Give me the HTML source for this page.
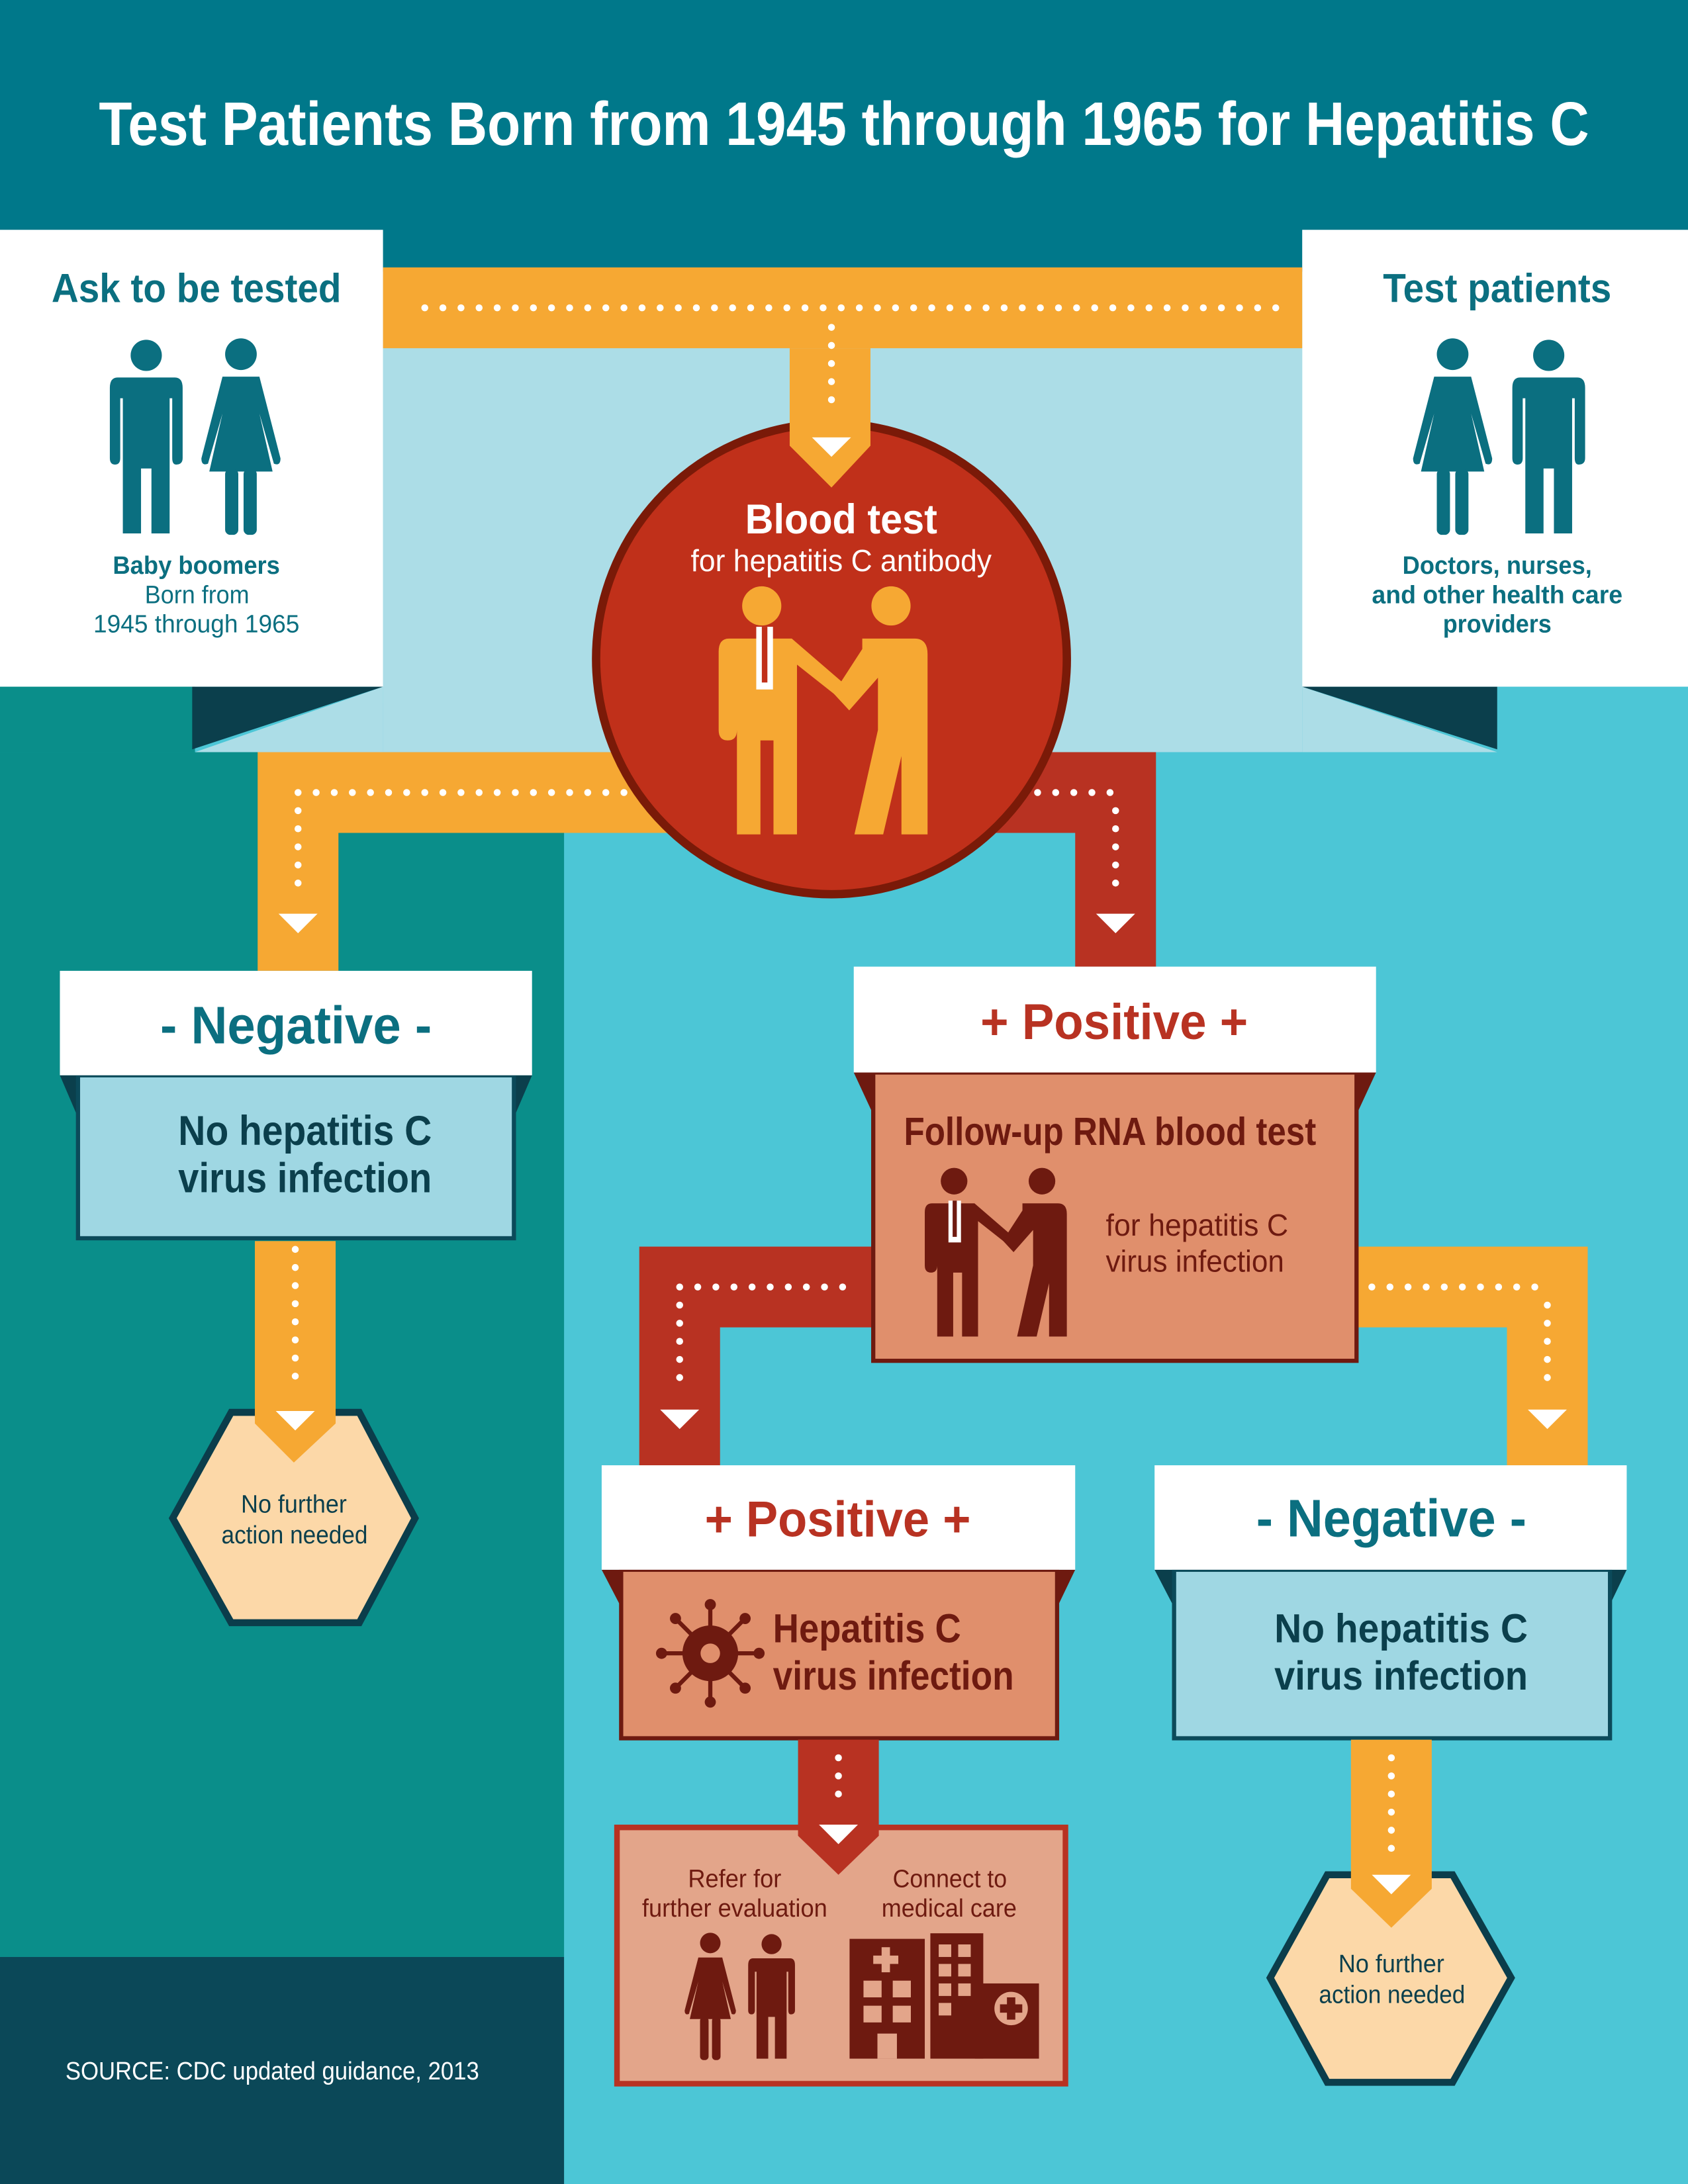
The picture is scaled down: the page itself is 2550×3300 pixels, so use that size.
<!DOCTYPE html>
<html><head><meta charset="utf-8"><style>
html,body{margin:0;padding:0;background:#fff}
svg{display:block}
text{font-family:"Liberation Sans Narrow","Liberation Sans",sans-serif}
</style></head><body>
<svg width="2550" height="3300" viewBox="0 0 1212 1568" preserveAspectRatio="none" xmlns="http://www.w3.org/2000/svg">
<defs>
<symbol id="man" viewBox="0 0 60 150" overflow="visible">
 <circle cx="30" cy="13" r="12"/>
 <path d="M8 30 H52 Q58 30 58 38 V92 Q58 97 53 97 Q50 97 50 92 V46 H48 V150 H34 V100 H26 V150 H12 V46 H10 V92 Q10 97 6 97 Q2 97 2 92 V38 Q2 30 8 30Z"/>
</symbol>
<symbol id="woman" viewBox="0 0 60 150" overflow="visible">
 <circle cx="30" cy="13" r="12"/>
 <path d="M16 30 H44 L60 92 Q60 98 55 96 L44 58 L54 102 H6 L16 58 L5 96 Q0 98 0 92Z"/>
 <rect x="18" y="100" width="10" height="50" rx="4"/>
 <rect x="32" y="100" width="10" height="50" rx="4"/>
</symbol>
<symbol id="shake" viewBox="0 0 160 190" overflow="visible">
 <circle cx="33" cy="15" r="15"/>
 <path d="M8 40 H56 L100 78 Q106 86 98 90 L60 60 V190 H42 V118 H32 V190 H14 V60 V110 Q14 118 7 118 Q0 118 0 110 V50 Q0 40 8 40Z"/>
 <circle cx="132" cy="15" r="15"/>
 <path d="M110 40 H150 Q160 40 160 52 V190 H140 V130 L126 190 H104 L122 110 V70 L100 95 L88 82 L110 48Z"/>
</symbol>
</defs>

<rect x="0" y="0" width="1212" height="1568" fill="#4cc6d6"/>
<rect x="0" y="0" width="1212" height="195" fill="#00788a"/>
<rect x="0" y="540" width="405" height="865" fill="#0a8e8a"/>
<rect x="0" y="1405" width="405" height="163" fill="#0b4858"/>
<rect x="0" y="493" width="140" height="47" fill="#0a8e8a"/>
<rect x="275" y="195" width="660" height="345" fill="#acdde7"/>
<polygon points="140,540 275,493 275,540" fill="#acdde7"/>
<polygon points="935,493 1075,540 935,540" fill="#acdde7"/>
<polygon points="138,493 275,493 138,538" fill="#0b3f4c"/>
<polygon points="935,493 1075,493 1075,538" fill="#0b3f4c"/>

<text x="606" y="104" text-anchor="middle" font-size="44" font-weight="bold" fill="#fff" textLength="1070" lengthAdjust="spacingAndGlyphs">Test Patients Born from 1945 through 1965 for Hepatitis C</text>

<rect x="0" y="165" width="275" height="328" fill="#fff"/>
<rect x="935" y="165" width="277" height="328" fill="#fff"/>
<text x="37" y="217" font-size="29" font-weight="bold" fill="#0b6f80" textLength="208" lengthAdjust="spacingAndGlyphs">Ask to be tested</text>
<use href="#man" x="77" y="242" width="56" height="142" fill="#0b6f80"/>
<use href="#woman" x="142" y="242" width="62" height="142" fill="#0b6f80"/>
<text x="81" y="412" font-size="18" font-weight="bold" fill="#0b6f80" textLength="120" lengthAdjust="spacingAndGlyphs">Baby boomers</text>
<text x="104" y="433" font-size="18" fill="#0b6f80" textLength="75" lengthAdjust="spacingAndGlyphs">Born from</text>
<text x="67" y="454" font-size="18" fill="#0b6f80" textLength="148" lengthAdjust="spacingAndGlyphs">1945 through 1965</text>
<text x="993" y="217" font-size="29" font-weight="bold" fill="#0b6f80" textLength="164" lengthAdjust="spacingAndGlyphs">Test patients</text>
<use href="#woman" x="1012" y="242" width="62" height="142" fill="#0b6f80"/>
<use href="#man" x="1084" y="242" width="56" height="142" fill="#0b6f80"/>
<text x="1007" y="412" font-size="18" font-weight="bold" fill="#0b6f80" textLength="136" lengthAdjust="spacingAndGlyphs">Doctors, nurses,</text>
<text x="985" y="433" font-size="18" font-weight="bold" fill="#0b6f80" textLength="180" lengthAdjust="spacingAndGlyphs">and other health care</text>
<text x="1036" y="454" font-size="18" font-weight="bold" fill="#0b6f80" textLength="78" lengthAdjust="spacingAndGlyphs">providers</text>

<rect x="275" y="192" width="660" height="58" fill="#f6a833"/>
<line x1="305" y1="221" x2="925" y2="221" stroke="#fff" stroke-width="5" stroke-linecap="round" stroke-dasharray="0 13"/>

<path d="M185 540 H480 V598 H243 V697 H185Z" fill="#f6a833"/>
<line x1="214" y1="569" x2="460" y2="569" stroke="#fff" stroke-width="5" stroke-linecap="round" stroke-dasharray="0 13"/>
<line x1="214" y1="582" x2="214" y2="645" stroke="#fff" stroke-width="5" stroke-linecap="round" stroke-dasharray="0 13"/>
<polygon points="200,656 228,656 214,670" fill="#fff"/>
<path d="M700 540 H830 V694 H772 V598 H700Z" fill="#b83222"/>
<line x1="745" y1="569" x2="801" y2="569" stroke="#fff" stroke-width="5" stroke-linecap="round" stroke-dasharray="0 13"/>
<line x1="801" y1="582" x2="801" y2="645" stroke="#fff" stroke-width="5" stroke-linecap="round" stroke-dasharray="0 13"/>
<polygon points="787,656 815,656 801,670" fill="#fff"/>

<circle cx="597" cy="473" r="169" fill="#c0301a" stroke="#7a1a08" stroke-width="6"/>
<polygon points="567,250 625,250 625,320 597,350 567,320" fill="#f6a833"/>
<line x1="597" y1="235" x2="597" y2="300" stroke="#fff" stroke-width="5" stroke-linecap="round" stroke-dasharray="0 13"/>
<polygon points="583,314 611,314 597,328" fill="#fff"/>
<text x="535" y="383" font-size="30" font-weight="bold" fill="#fff" textLength="138" lengthAdjust="spacingAndGlyphs">Blood test</text>
<text x="496" y="410" font-size="22" fill="#fff" textLength="216" lengthAdjust="spacingAndGlyphs">for hepatitis C antibody</text>
<use href="#shake" x="516" y="418" width="150" height="184" fill="#f6a833"/>
<rect x="543" y="450" width="12" height="45" fill="#fff"/>
<rect x="547" y="450" width="4" height="40" fill="#c0301a"/>

<polygon points="43,772 55,772 55,800" fill="#0b3f4c"/>
<polygon points="370,772 382,772 370,800" fill="#0b3f4c"/>
<rect x="56" y="772" width="313" height="117" fill="#9fd7e3" stroke="#0b4a5a" stroke-width="3"/>
<rect x="43" y="697" width="339" height="75" fill="#fff"/>
<text x="115" y="749" font-size="38" font-weight="bold" fill="#0b6f80" textLength="195" lengthAdjust="spacingAndGlyphs">- Negative -</text>
<text x="128" y="822" font-size="30" font-weight="bold" fill="#0b3f4c" textLength="182" lengthAdjust="spacingAndGlyphs">No hepatitis C</text>
<text x="128" y="856" font-size="30" font-weight="bold" fill="#0b3f4c" textLength="182" lengthAdjust="spacingAndGlyphs">virus infection</text>
<polygon points="166,1014 258,1014 298,1090 258,1165 166,1165 124,1090" fill="#fcd8a8" stroke="#0b3d4b" stroke-width="5"/>
<polygon points="183,891 241,891 241,1022 211,1050 183,1022" fill="#f6a833"/>
<line x1="212" y1="897" x2="212" y2="1000" stroke="#fff" stroke-width="5" stroke-linecap="round" stroke-dasharray="0 13"/>
<polygon points="198,1013 226,1013 212,1027" fill="#fff"/>
<text x="173" y="1086" font-size="18" fill="#0b3f4c" textLength="76" lengthAdjust="spacingAndGlyphs">No further</text>
<text x="159" y="1108" font-size="18" fill="#0b3f4c" textLength="105" lengthAdjust="spacingAndGlyphs">action needed</text>

<path d="M630 895 H459 V1052 H517 V953 H630Z" fill="#b83222"/>
<line x1="488" y1="924" x2="615" y2="924" stroke="#fff" stroke-width="5" stroke-linecap="round" stroke-dasharray="0 13"/>
<line x1="488" y1="937" x2="488" y2="1000" stroke="#fff" stroke-width="5" stroke-linecap="round" stroke-dasharray="0 13"/>
<polygon points="474,1012 502,1012 488,1026" fill="#fff"/>
<path d="M970 895 H1140 V1052 H1082 V953 H970Z" fill="#f6a833"/>
<line x1="985" y1="924" x2="1111" y2="924" stroke="#fff" stroke-width="5" stroke-linecap="round" stroke-dasharray="0 13"/>
<line x1="1111" y1="937" x2="1111" y2="1000" stroke="#fff" stroke-width="5" stroke-linecap="round" stroke-dasharray="0 13"/>
<polygon points="1097,1012 1125,1012 1111,1026" fill="#fff"/>

<polygon points="613,770 626,770 626,798" fill="#6e1a10"/>
<polygon points="975,770 988,770 975,798" fill="#6e1a10"/>
<rect x="627" y="770" width="347" height="207" fill="#e08f6c" stroke="#6e1a10" stroke-width="3"/>
<rect x="613" y="694" width="375" height="76" fill="#fff"/>
<text x="704" y="746" font-size="36" font-weight="bold" fill="#b83222" textLength="192" lengthAdjust="spacingAndGlyphs">+ Positive +</text>
<text x="649" y="822" font-size="28" font-weight="bold" fill="#6e1a10" textLength="296" lengthAdjust="spacingAndGlyphs">Follow-up RNA blood test</text>
<use href="#shake" x="664" y="836" width="102" height="126" fill="#6e1a10"/>
<rect x="681" y="862" width="9" height="30" fill="#fff"/>
<rect x="684" y="862" width="3" height="26" fill="#6e1a10"/>
<text x="794" y="887" font-size="22" fill="#6e1a10" textLength="131" lengthAdjust="spacingAndGlyphs">for hepatitis C</text>
<text x="794" y="913" font-size="22" fill="#6e1a10" textLength="128" lengthAdjust="spacingAndGlyphs">virus infection</text>

<polygon points="432,1127 445,1127 445,1152" fill="#6e1a10"/>
<polygon points="760,1127 772,1127 760,1152" fill="#6e1a10"/>
<rect x="446" y="1127" width="313" height="121" fill="#e08f6c" stroke="#6e1a10" stroke-width="3"/>
<rect x="432" y="1052" width="340" height="75" fill="#fff"/>
<text x="506" y="1103" font-size="36" font-weight="bold" fill="#b83222" textLength="191" lengthAdjust="spacingAndGlyphs">+ Positive +</text>
<g fill="#6e1a10" stroke="#6e1a10">
 <circle cx="510" cy="1187" r="20" stroke="none"/>
 <g stroke-width="3">
  <line x1="510" y1="1187" x2="510" y2="1152"/><line x1="510" y1="1187" x2="510" y2="1222"/>
  <line x1="510" y1="1187" x2="475" y2="1187"/><line x1="510" y1="1187" x2="545" y2="1187"/>
  <line x1="510" y1="1187" x2="485" y2="1162"/><line x1="510" y1="1187" x2="535" y2="1212"/>
  <line x1="510" y1="1187" x2="535" y2="1162"/><line x1="510" y1="1187" x2="485" y2="1212"/>
 </g>
 <g stroke="none">
  <circle cx="510" cy="1152" r="4"/><circle cx="510" cy="1222" r="4"/><circle cx="475" cy="1187" r="4"/><circle cx="545" cy="1187" r="4"/>
  <circle cx="485" cy="1162" r="4"/><circle cx="535" cy="1212" r="4"/><circle cx="535" cy="1162" r="4"/><circle cx="485" cy="1212" r="4"/>
 </g>
 <circle cx="510" cy="1187" r="7" fill="#e08f6c" stroke="none"/>
</g>
<text x="555" y="1179" font-size="29" font-weight="bold" fill="#6e1a10" textLength="135" lengthAdjust="spacingAndGlyphs">Hepatitis C</text>
<text x="555" y="1213" font-size="29" font-weight="bold" fill="#6e1a10" textLength="173" lengthAdjust="spacingAndGlyphs">virus infection</text>

<polygon points="829,1127 842,1127 842,1152" fill="#0b3f4c"/>
<polygon points="1156,1127 1168,1127 1156,1152" fill="#0b3f4c"/>
<rect x="843" y="1127" width="313" height="121" fill="#9fd7e3" stroke="#0b4a5a" stroke-width="3"/>
<rect x="829" y="1052" width="339" height="75" fill="#fff"/>
<text x="902" y="1103" font-size="38" font-weight="bold" fill="#0b6f80" textLength="194" lengthAdjust="spacingAndGlyphs">- Negative -</text>
<text x="915" y="1179" font-size="29" font-weight="bold" fill="#0b3f4c" textLength="182" lengthAdjust="spacingAndGlyphs">No hepatitis C</text>
<text x="915" y="1213" font-size="29" font-weight="bold" fill="#0b3f4c" textLength="182" lengthAdjust="spacingAndGlyphs">virus infection</text>

<rect x="443" y="1312" width="322" height="184" fill="#e3a58a" stroke="#b83222" stroke-width="4"/>
<polygon points="573,1249 631,1249 631,1318 602,1346 573,1318" fill="#b83222"/>
<line x1="602" y1="1262" x2="602" y2="1300" stroke="#fff" stroke-width="5" stroke-linecap="round" stroke-dasharray="0 13"/>
<polygon points="588,1310 616,1310 602,1324" fill="#fff"/>
<text x="494" y="1355" font-size="18" fill="#6e1a10" textLength="67" lengthAdjust="spacingAndGlyphs">Refer for</text>
<text x="461" y="1376" font-size="18" fill="#6e1a10" textLength="133" lengthAdjust="spacingAndGlyphs">further evaluation</text>
<text x="641" y="1355" font-size="18" fill="#6e1a10" textLength="82" lengthAdjust="spacingAndGlyphs">Connect to</text>
<text x="633" y="1376" font-size="18" fill="#6e1a10" textLength="97" lengthAdjust="spacingAndGlyphs">medical care</text>
<use href="#woman" x="490" y="1387" width="40" height="92" fill="#6e1a10"/>
<use href="#man" x="536" y="1387" width="36" height="92" fill="#6e1a10"/>
<g fill="#6e1a10">
 <rect x="610" y="1392" width="54" height="86"/>
 <rect x="668" y="1388" width="38" height="90"/>
 <rect x="700" y="1424" width="46" height="54"/>
</g>
<g fill="#e3a58a">
 <rect x="633" y="1398" width="6" height="18"/><rect x="627" y="1404" width="18" height="6"/>
 <rect x="620" y="1422" width="13" height="12"/><rect x="641" y="1422" width="13" height="12"/>
 <rect x="620" y="1440" width="13" height="12"/><rect x="641" y="1440" width="13" height="12"/>
 <rect x="630" y="1460" width="14" height="18"/>
 <rect x="674" y="1396" width="9" height="9"/><rect x="688" y="1396" width="9" height="9"/>
 <rect x="674" y="1410" width="9" height="9"/><rect x="688" y="1410" width="9" height="9"/>
 <rect x="674" y="1424" width="9" height="9"/><rect x="688" y="1424" width="9" height="9"/>
 <rect x="674" y="1438" width="9" height="9"/>
 <circle cx="726" cy="1442" r="12"/>
</g>
<rect x="723" y="1434" width="6" height="16" fill="#6e1a10"/><rect x="718" y="1439" width="16" height="6" fill="#6e1a10"/>

<polygon points="953,1346 1043,1346 1085,1420 1043,1495 953,1495 912,1420" fill="#fcd8a8" stroke="#0b3d4b" stroke-width="5"/>
<polygon points="970,1249 1028,1249 1028,1356 999,1384 970,1356" fill="#f6a833"/>
<line x1="999" y1="1262" x2="999" y2="1335" stroke="#fff" stroke-width="5" stroke-linecap="round" stroke-dasharray="0 13"/>
<polygon points="985,1346 1013,1346 999,1360" fill="#fff"/>
<text x="961" y="1416" font-size="18" fill="#0b3f4c" textLength="76" lengthAdjust="spacingAndGlyphs">No further</text>
<text x="947" y="1438" font-size="18" fill="#0b3f4c" textLength="105" lengthAdjust="spacingAndGlyphs">action needed</text>

<text x="47" y="1493" font-size="18" fill="#fff" textLength="297" lengthAdjust="spacingAndGlyphs">SOURCE: CDC updated guidance, 2013</text>
</svg>
</body></html>
